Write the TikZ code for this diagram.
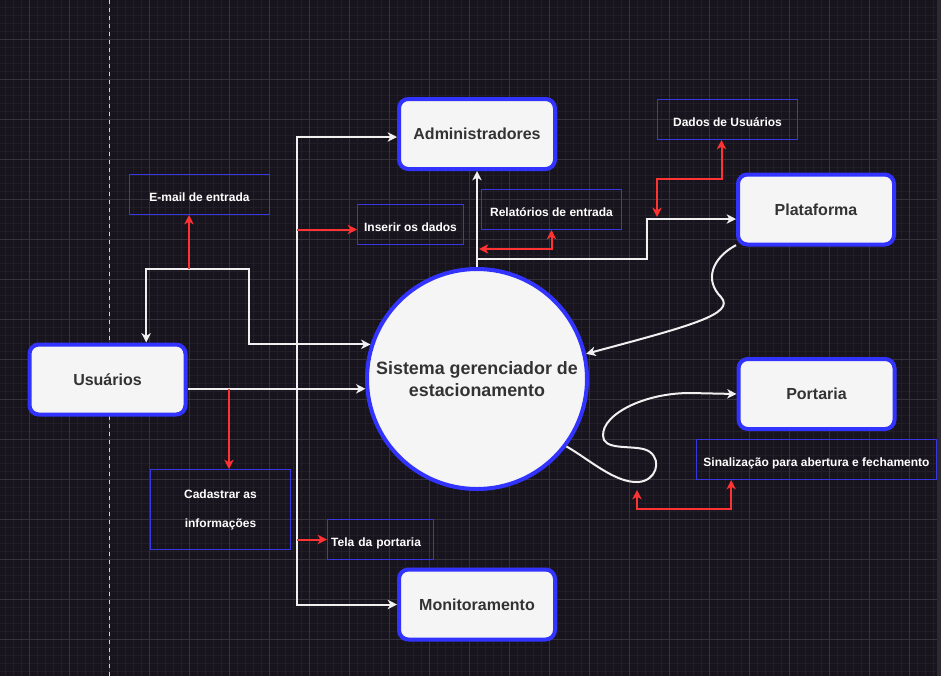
\documentclass[tikz,border=0pt]{standalone}
\usepackage{fontspec}
\setmainfont{Liberation Sans}
\usetikzlibrary{arrows.meta,positioning,shapes.geometric}

\definecolor{bgdark}{RGB}{24,20,29}
\definecolor{gridminor}{RGB}{34,30,39}
\definecolor{gridmajor}{RGB}{54,50,59}
\definecolor{boxblue}{RGB}{51,51,255}
\definecolor{tagblue}{RGB}{56,56,225}
\definecolor{boxfill}{RGB}{245,245,245}
\definecolor{boxtext}{RGB}{51,51,51}
\definecolor{wirewhite}{RGB}{240,240,240}
\definecolor{alertred}{RGB}{255,51,51}

\begin{document}
\begin{tikzpicture} [x=0.75pt, y=-0.75pt,
  >={Stealth[length=7pt,width=7pt,inset=2pt]},
  entity/.style={draw=boxblue, line width=3pt, fill=boxfill, rounded corners=7pt,
    minimum width=117pt, minimum height=52.5pt, text=boxtext,
    font=\bfseries\fontsize{12}{14}\selectfont},
  tag/.style={draw=tagblue, line width=0.75pt, text=white, inner sep=0pt,
    minimum height=30pt, font=\bfseries\fontsize{9}{11}\selectfont},
  tagline/.style={tag, text height=11pt, text depth=0pt},
  wire/.style={draw=wirewhite, line width=1.5pt},
  alert/.style={draw=alertred, line width=1.5pt}]

\useasboundingbox (0,0) rectangle (941,676);
\fill [bgdark] (0,0) rectangle (941,676);

%grid
\foreach \gx in {5,13,...,941} \draw [gridminor, line width=0.5pt] (\gx,0) -- (\gx,676);
\foreach \gy in {7,15,...,676} \draw [gridminor, line width=0.5pt] (0,\gy) -- (941,\gy);
\foreach \gx in {29,69,...,941} \draw [gridmajor, line width=0.75pt] (\gx,0) -- (\gx,676);
\foreach \gy in {39,79,...,676} \draw [gridmajor, line width=0.75pt] (0,\gy) -- (941,\gy);
\fill [color={rgb,255:red,45;green,42;blue,50}] (937,0) rectangle (941,676);
\draw [color={rgb,255:red,210;green,210;blue,210}, line width=0.75pt, dash pattern=on 3pt off 3pt] (109,0) -- (109,676);

%entities
\node [entity] (usr) at (107.5,379.5) {Usuários};
\node [entity] (adm) at (477,134) {Administradores};
\node [entity] (plat) at (816,209.5) {Plataforma};
\node [entity] (port) at (816.5,394) {Portaria};
\node [entity] (mon) at (477,604.5) {Monitoramento};
\node [circle, draw=boxblue, line width=3pt, fill=boxfill, minimum size=165pt, inner sep=0pt,
  align=center, text=boxtext, font=\bfseries\fontsize{13.4}{16.5}\selectfont]
  (sys) at (477,379) {Sistema gerenciador de\\estacionamento};

%data labels
\node [tagline, minimum width=105pt] (email) at (199.5,194.5) {E-mail de entrada};
\node [tagline, minimum width=79.5pt] (ins) at (410.5,224.5) {Inserir os dados};
\node [tagline, minimum width=105pt] (rel) at (551.5,209.5) {Relatórios de entrada};
\node [tagline, minimum width=105pt] (dados) at (727.5,119.5) {Dados de Usuários};
\node [tag, minimum width=105pt, minimum height=60pt, align=center,
  font=\bfseries\fontsize{9}{21.75}\selectfont] (cad) at (220.5,509.5) {Cadastrar as\\informações};
\node [tagline, minimum width=79.5pt, text width=74pt, align=left] (tela) at (380.5,539.5) {Tela da portaria};
\node [tagline, minimum width=180pt] (sinal) at (816.5,459.5) {Sinalização para abertura e fechamento};

\coordinate (bend) at (249,269);
\coordinate (em) at (189,269);
\coordinate (trunk) at (297,389);
\coordinate (cd) at (229,389);
\coordinate (jn) at (477,259);
\coordinate (kink) at (647,219);
\coordinate (relend) at (479,249);
\coordinate (dd) at (657,179);
\coordinate (ddend) at (657,217);
\coordinate (sg) at (637,490);
\coordinate (sgb) at (637,509);

%white flows
\draw [wire, ->] (usr.east |- sys.185) -- (sys.185);
\draw [wire, <->] ([xshift=29pt]usr.north) |- (bend) |- (sys.162);
\draw [wire, <->] ([yshift=-2.25pt]adm.west) -| (trunk) |- (mon.west);
\draw [wire, ->] (sys.north) -- (adm.south);
\draw [wire, ->] (jn) -| (kink) -- (kink -| plat.west);
\draw [wire, ->] (plat.204) .. controls (712,258) and (704,280) .. (721,297) .. controls (736,314) and (690,326) .. (sys.13);
\draw [wire, ->] (sys.-37) .. controls (590,460) and (615,483) .. (638,482) .. controls (656,481) and (662,461) .. (650,452) .. controls (640,444) and (610,451) .. (604,440) .. controls (596,418) and (640,393) .. (690,393) -- (port.west);

%red flows
\draw [alert, ->] (em) -- (em |- email.south);
\draw [alert, ->] (trunk |- ins.west) ++(0,5) -- ([yshift=-3.75pt]ins.west);
\draw [alert, ->] (trunk |- tela.west) -- (tela.west);
\draw [alert, ->] (cd) -- (cd |- cad.north);
\draw [alert, <->] (rel.south) |- (relend);
\draw [alert, <->] ([xshift=-4.5pt]dados.south) |- (dd) -- (ddend);
\draw [alert, <->] (sg) -- (sgb) -| ([xshift=-64pt]sinal.south);

\end{tikzpicture}
\end{document}
